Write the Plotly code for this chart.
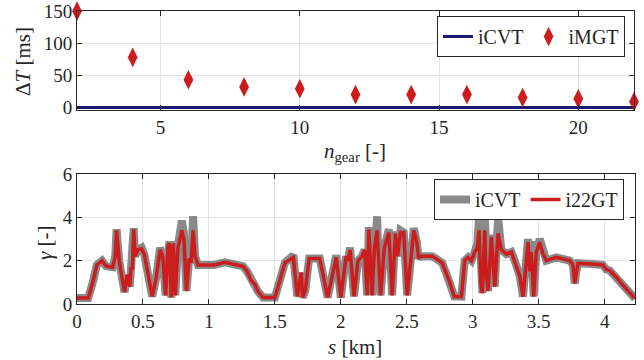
import plotly.graph_objects as go

# ---- shift-time comparison (top) ----
n_gear = [2, 4, 6, 8, 10, 12, 14, 16, 18, 20, 22]
dT_icvt = [0, 0, 0, 0, 0, 0, 0, 0, 0, 0, 0]
dT_imgt = [150, 78, 43, 32, 29, 20, 20, 20, 15.5, 13.5, 9]
top_xticks = [5, 10, 15, 20]
top_yticks = [0, 50, 100, 150]

# ---- ratio profile along the route (bottom) ----
s_km = [
    0.00, 0.085, 0.12, 0.15, 0.19, 0.22, 0.27, 0.29, 0.30, 0.32,
    0.36, 0.38, 0.40, 0.41, 0.42, 0.43, 0.44, 0.46, 0.49, 0.51,
    0.57, 0.60, 0.63, 0.65, 0.672, 0.69, 0.70, 0.714, 0.73, 0.745,
    0.765, 0.795, 0.81, 0.83, 0.85, 0.865, 0.88, 0.895, 0.917,
    0.95, 1.04, 1.12, 1.19, 1.26, 1.29, 1.32, 1.35, 1.37, 1.41,
    1.50, 1.576, 1.64, 1.67, 1.70, 1.71, 1.73, 1.76, 1.84, 1.90,
    1.965, 2.00,
    2.04, 2.055, 2.07, 2.10, 2.13, 2.16, 2.18, 2.20, 2.212, 2.237,
    2.255, 2.275, 2.285, 2.301, 2.33, 2.351, 2.364, 2.389, 2.414, 2.43,
    2.452, 2.477, 2.503, 2.53, 2.553, 2.575, 2.59, 2.604,
    2.692, 2.72, 2.768, 2.80, 2.826, 2.86, 2.914, 2.939, 2.965, 2.99,
    3.015, 3.035, 3.048, 3.06, 3.073, 3.091, 3.10, 3.116, 3.141, 3.167,
    3.192, 3.217, 3.255, 3.293, 3.318,
    3.356, 3.381, 3.407, 3.419, 3.432, 3.444, 3.462, 3.482, 3.508, 3.533,
    3.558, 3.634, 3.735, 3.76, 3.773, 3.785, 3.798, 3.90, 3.987, 4.01,
    4.038, 4.06, 4.088, 4.12, 4.164, 4.20, 4.23,
]
gamma_i22gt = [
    0.28, 0.28, 1.00, 1.80, 2.00, 1.75, 1.70, 2.20, 3.40, 2.00,
    0.55, 1.35, 0.80, 1.70, 1.60, 3.45, 2.20, 2.50, 2.55, 2.30,
    0.35, 1.20, 2.50, 2.20, 0.40, 2.70, 2.80, 0.30, 2.80, 0.40,
    2.60, 3.40, 3.00, 0.60, 2.10, 1.90, 3.40, 2.20, 1.80,
    1.80, 1.80, 1.92, 1.82, 1.74, 1.50, 1.10, 0.90, 0.60, 0.30,
    0.30, 1.90, 2.15, 0.35, 1.45, 0.30, 0.60, 2.10, 2.10, 0.30,
    2.15, 0.30,
    2.20, 2.00, 2.50, 0.35, 2.00, 2.20, 2.50, 0.40, 3.43, 0.40,
    2.60, 3.40, 2.00, 0.40, 2.60, 3.10, 3.30, 0.40, 3.25, 2.20,
    3.30, 3.30, 0.40, 2.00, 3.40, 2.90, 2.10, 2.20,
    2.20, 2.10, 1.90, 1.40, 1.00, 0.35, 0.34, 2.00, 2.15, 2.00,
    2.40, 2.60, 3.40, 1.00, 0.50, 3.40, 1.50, 0.60, 3.10, 0.80,
    3.26, 2.50, 2.30, 2.40, 2.00,
    1.30, 0.34, 2.40, 2.85, 1.50, 2.40, 0.34, 2.40, 2.85, 2.30,
    2.00, 2.15, 2.00, 1.80, 0.95, 1.50, 1.88, 1.85, 1.80, 1.60,
    1.55, 1.40, 1.25, 1.00, 0.70, 0.40, 0.25,
]
gamma_icvt = [
    0.28, 0.28, 1.00, 1.80, 2.00, 1.75, 1.70, 2.20, 3.45, 2.00,
    0.55, 1.35, 0.80, 1.70, 1.60, 3.50, 2.20, 2.50, 2.60, 2.30,
    0.35, 1.20, 2.60, 2.20, 0.40, 2.70, 2.90, 0.30, 2.90, 0.40,
    2.70, 3.85, 3.30, 0.60, 2.10, 1.90, 4.05, 2.20, 1.80,
    1.80, 1.80, 1.92, 1.82, 1.74, 1.50, 1.10, 0.90, 0.60, 0.30,
    0.30, 1.90, 2.25, 0.35, 1.45, 0.30, 0.60, 2.10, 2.10, 0.30,
    2.25, 0.30,
    2.20, 2.00, 2.60, 0.35, 2.00, 2.20, 2.50, 0.40, 3.55, 0.40,
    2.60, 4.05, 2.00, 0.40, 2.60, 3.10, 3.45, 0.40, 3.35, 2.20,
    3.40, 3.30, 0.40, 2.00, 3.50, 2.90, 2.10, 2.20,
    2.20, 2.10, 1.90, 1.40, 1.00, 0.35, 0.34, 2.00, 2.15, 2.00,
    2.40, 2.80, 4.00, 1.00, 0.50, 4.10, 1.50, 0.60, 3.20, 0.80,
    4.00, 2.50, 2.30, 2.40, 2.00,
    1.30, 0.34, 2.40, 3.00, 1.50, 2.90, 0.34, 2.40, 3.00, 2.30,
    2.00, 2.15, 2.00, 1.80, 0.95, 1.50, 1.88, 1.85, 1.80, 1.60,
    1.55, 1.40, 1.25, 1.00, 0.70, 0.40, 0.25,
]
bot_xticks = [0, 0.5, 1, 1.5, 2, 2.5, 3, 3.5, 4]
bot_xlabels = ["0", "0.5", "1", "1.5", "2", "2.5", "3", "3.5", "4"]
bot_yticks = [0, 2, 4, 6]

W, H = 644, 360
FONT = "Liberation Serif"
INK = "#262626"
GRID = "#e3e3e3"
NAVY = "#191970"
RED = "#cc1c1c"
GRAY = "#8a8a8a"


def px_x(p):
    return p / W


def px_y(p):
    return 1 - p / H


fig = go.Figure()

fig.add_trace(go.Scatter(
    x=n_gear, y=dT_icvt, mode="lines", name="iCVT",
    line=dict(color=NAVY, width=3), xaxis="x", yaxis="y", legend="legend",
))
fig.add_trace(go.Scatter(
    x=n_gear, y=dT_imgt, mode="markers", name="iMGT",
    marker=dict(symbol="diamond-tall", size=14, color=RED),
    cliponaxis=False, xaxis="x", yaxis="y", legend="legend",
))
fig.add_trace(go.Scatter(
    x=s_km, y=gamma_icvt, mode="lines", name="iCVT",
    line=dict(color=GRAY, width=8), xaxis="x2", yaxis="y2", legend="legend2",
))
fig.add_trace(go.Scatter(
    x=s_km, y=gamma_i22gt, mode="lines", name="i22GT",
    line=dict(color=RED, width=3.5), xaxis="x2", yaxis="y2", legend="legend2",
))

axis_style = dict(
    showline=True, linecolor=INK, linewidth=1, mirror="ticks",
    ticks="inside", ticklen=5, tickwidth=1, tickcolor=INK,
    showgrid=True, gridcolor=GRID, gridwidth=1, zeroline=False,
    automargin=False,
    tickfont=dict(family=FONT, size=19, color=INK),
)

legend_style = dict(
    orientation="h", xanchor="right", yanchor="top",
    bgcolor="white", bordercolor=INK, borderwidth=1,
    font=dict(family=FONT, size=20, color=INK),
)

fig.update_layout(
    width=W, height=H, autosize=False,
    margin=dict(l=0, r=0, t=0, b=0, pad=0, autoexpand=False),
    paper_bgcolor="white", plot_bgcolor="white",
    font=dict(family=FONT, color=INK),
    xaxis=dict(domain=[px_x(77), px_x(634)], anchor="y", range=[2, 22],
               tickvals=top_xticks, **axis_style),
    yaxis=dict(domain=[px_y(110), px_y(11)], anchor="x", range=[-4, 150.2],
               tickvals=top_yticks, **axis_style),
    xaxis2=dict(domain=[px_x(77), px_x(635)], anchor="y2", range=[0, 4.23],
                tickvals=bot_xticks, ticktext=bot_xlabels, **axis_style),
    yaxis2=dict(domain=[px_y(304), px_y(174)], anchor="x2", range=[0, 6],
                tickvals=bot_yticks, **axis_style),
    legend=dict(x=px_x(625), y=px_y(16), **legend_style),
    legend2=dict(x=px_x(624), y=px_y(179), **legend_style),
    showlegend=True,
)

title_font = dict(family=FONT, size=21, color=INK)
titles = [
    ("<i>n</i><sub>gear</sub> [-]", 355, 152, 0),
    ("Δ<i>T</i> [ms]", 23, 62, -90),
    ("<i>s</i> [km]", 355, 347, 0),
    ("<i>γ</i> [-]", 45, 242, -90),
]
for text, tx, ty, ang in titles:
    fig.add_annotation(text=text, xref="paper", yref="paper",
                       x=px_x(tx), y=px_y(ty), xanchor="center", yanchor="middle",
                       textangle=ang, showarrow=False, font=title_font)

fig.write_html("out.html")
